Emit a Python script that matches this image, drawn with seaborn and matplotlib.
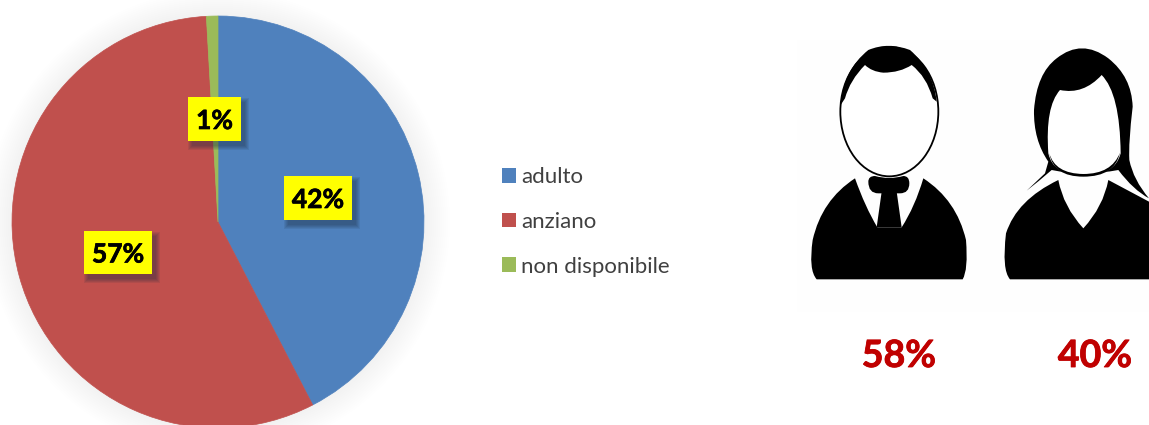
import matplotlib
matplotlib.use("Agg")
import matplotlib.pyplot as plt
import matplotlib.patheffects as pe
import seaborn as sns
from matplotlib.patches import Circle, Ellipse, PathPatch, Rectangle, Patch
from matplotlib.path import Path

# valori
fasce = ["adulto", "anziano", "non disponibile"]
quote = [42.4, 56.7, 0.9]
etichette = ["42%", "57%", "1%"]
colori = ["#4F81BD", "#C0504D", "#9BBB59"]
sesso_perc = ["58%", "40%"]

sns.set_theme(style="white")
plt.rcParams["font.family"] = ["Lato", "DejaVu Sans"]

W, H = 1149, 425
fig = plt.figure(figsize=(W / 100, H / 100), dpi=100)
ax = fig.add_axes([0, 0, 1, 1])
ax.set_xlim(0, W)
ax.set_ylim(0, H)
ax.axis("off")


def Y(py):
    return H - py


# ombra sfumata della torta
for r in range(232, 205, -2):
    ax.add_patch(Circle((218, Y(222)), r, fc="black", ec="none", alpha=0.0035, zorder=1))

wedges, _ = ax.pie(quote, colors=sns.color_palette(colori), center=(218, Y(222)), radius=206,
                   startangle=90, counterclock=False, frame=True,
                   wedgeprops=dict(linewidth=0, zorder=2))
for w_, c_ in zip(wedges, colori):
    w_.set_edgecolor(c_)
    w_.set_linewidth(0.5)
ax.set_xlim(0, W)
ax.set_ylim(0, H)
ax.set_aspect("equal")
ax.axis("off")

# box giallo con ombra per ogni etichetta
box = {"42%": (284, 176, 68, 44), "57%": (84, 231, 68, 43), "1%": (188, 97, 53, 44)}
spesso = [pe.withStroke(linewidth=0.5, foreground="black")]
for lab in etichette:
    x, y, w, h = box[lab]
    for g in range(5, 0, -1):
        ax.add_patch(Rectangle((x + 5 - g, Y(y + h + 5 + g - 1)), w + 2 * g - 2, h + 2 * g - 2,
                               fc="#1a2a40", ec="none", alpha=0.10, zorder=3))
    ax.add_patch(Rectangle((x, Y(y + h)), w, h, fc="#FFFF00", ec="none", zorder=4))
    ax.text(x + w / 2, Y(y + h / 2), lab, ha="center", va="center_baseline", fontsize=19,
            fontweight="bold", color="black", zorder=5, path_effects=spesso)

handles = [Patch(fc=c, ec="none") for c in colori]
ax.legend(handles, fasce, loc="center left", bbox_to_anchor=(502, Y(222)),
          bbox_transform=ax.transData, frameon=False, fontsize=16, handlelength=0.63,
          handleheight=0.63, handletextpad=0.23, labelspacing=1.105, borderpad=0, borderaxespad=0,
          labelcolor="#404040")


# icone disegnate in coordinate dello zoom 3x
def zx(x):
    return 800 + x / 3


def zy(y):
    return Y(30 + y / 3)


def forma(punti, fc="black", z=6, lw=0.0, ec="none"):
    verts = [(zx(punti[0][0]), zy(punti[0][1]))]
    codes = [Path.MOVETO]
    for p in punti[1:]:
        if len(p) == 2:
            verts.append((zx(p[0]), zy(p[1])))
            codes.append(Path.LINETO)
        else:
            verts += [(zx(p[0]), zy(p[1])), (zx(p[2]), zy(p[3]))]
            codes += [Path.CURVE3, Path.CURVE3]
    ax.add_patch(PathPatch(Path(verts, codes), fc=fc, ec=ec, lw=lw, zorder=z))


ax.add_patch(Rectangle((797, Y(312)), 352, 272, fc="#FEFEFE", ec="none", zorder=0))

# uomo
ax.add_patch(Ellipse((zx(268), zy(245)), 294 / 3, 388 / 3, fc="white", ec="black", lw=1.3, zorder=7))
forma([(122, 225), (130, 120, 205, 60), (265, 35, 330, 60), (400, 120, 410, 215), (398, 205),
       (380, 140, 335, 105), (300, 128, 250, 128), (215, 125, 195, 105), (150, 150, 135, 205)], z=8)
forma([(165, 445), (195, 530, 232, 592), (305, 592), (345, 530, 370, 445), (470, 510, 498, 630),
       (505, 720, 488, 748), (50, 748), (25, 720, 38, 630), (65, 510, 165, 445)])
forma([(245, 485), (290, 485), (305, 592), (230, 592)], z=7)
forma([(205, 455), (205, 438, 225, 438), (268, 450, 310, 438), (328, 438, 328, 460),
       (328, 490, 300, 490), (235, 490), (205, 490, 205, 455)], z=6.5)

# donna
forma([(680, 482), (735, 430), (745, 395), (700, 330, 702, 240), (710, 130, 770, 85), (845, 25, 925, 85),
       (995, 140, 998, 230), (985, 340, 988, 390), (1000, 450, 1047, 505), (1000, 480, 955, 420),
       (850, 440, 755, 420), (715, 455, 680, 482)])
forma([(780, 180), (850, 195, 905, 135), (960, 190, 962, 370), (945, 437, 850, 437),
       (760, 437, 745, 370), (735, 230, 780, 180)], fc="white", z=7)
forma([(960, 368), (945, 440, 850, 440), (760, 440, 748, 370), (765, 431, 850, 432),
       (935, 432, 960, 368)], z=8)
forma([(775, 450), (790, 530, 850, 595), (910, 530, 925, 450), (1047, 515), (1100, 570), (1100, 748), (630, 748),
       (605, 720, 618, 610), (650, 510, 775, 450)], z=8)

spesso_r = [pe.withStroke(linewidth=0.6, foreground="#C00000")]
ax.text(899, Y(353), sesso_perc[0], ha="center", va="center_baseline", fontsize=27, fontweight="bold",
        color="#C00000", path_effects=spesso_r)
ax.text(1095, Y(353), sesso_perc[1], ha="center", va="center_baseline", fontsize=27, fontweight="bold",
        color="#C00000", path_effects=spesso_r)

fig.savefig("out.png", dpi=100)
